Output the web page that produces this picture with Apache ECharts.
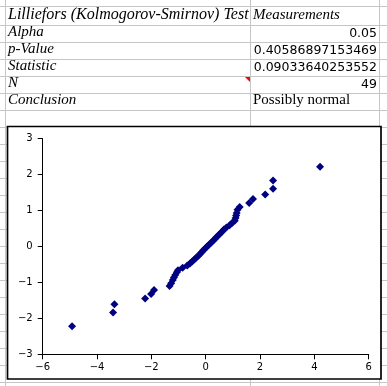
<!DOCTYPE html>
<html>
<head>
<meta charset="utf-8">
<script src="https://cdn.jsdelivr.net/npm/echarts@6/dist/echarts.min.js"></script>
<style>
html,body{margin:0;padding:0;background:#fff;}
#c{width:387px;height:386px;}
</style>
</head>
<body>
<div id="c"></div>
<script>
// Table content
var tableLabels = ['Lilliefors (Kolmogorov-Smirnov) Test', 'Alpha', 'p-Value', 'Statistic', 'N', 'Conclusion'];
var tableValues = ['Measurements', '0.05', '0.40586897153469', '0.09033640253552', '49', 'Possibly normal'];
var valueAlign = ['left', 'right', 'right', 'right', 'right', 'left'];

// Q-Q scatter: x = observed (standardized), y = normal quantile
var xValues = [-4.92, -3.41, -3.36, -2.23, -2.01, -1.90, -1.33, -1.27, -1.21, -1.17, -1.12, -1.06, -1.02,
  -0.85, -0.68, -0.58, -0.50, -0.42, -0.35, -0.27, -0.20, -0.14, -0.08, -0.01, 0.05,
  0.12, 0.19, 0.26, 0.33, 0.39, 0.47, 0.53, 0.61, 0.67, 0.76, 0.88, 0.98, 1.07, 1.10,
  1.12, 1.14, 1.17, 1.25, 1.60, 1.74, 2.19, 2.48, 2.48, 4.21];
var yValues = [-2.22, -1.84, -1.61, -1.45, -1.32, -1.21, -1.10, -1.02, -0.93, -0.86, -0.79, -0.72, -0.66,
  -0.59, -0.53, -0.47, -0.42, -0.36, -0.31, -0.26, -0.20, -0.15, -0.10, -0.05, 0.00,
  0.05, 0.10, 0.15, 0.20, 0.26, 0.31, 0.36, 0.42, 0.47, 0.53, 0.59, 0.66, 0.72, 0.79,
  0.86, 0.93, 1.02, 1.10, 1.21, 1.32, 1.45, 1.61, 1.84, 2.22];

var xTicks = {min: -6, max: 6, interval: 2};
var yTicks = {min: -3, max: 3, interval: 1};

var points = xValues.map(function (x, i) { return [x, yValues[i]]; });

// Spreadsheet grid
var gridColor = '#c6c6c6';
var rowLines = [6.5, 25.5, 42.5, 59.5, 76.5, 93.5, 110.5, 127.5];
for (var yy = 144.5; yy < 386; yy += 17) rowLines.push(yy);
var colLines = [5.5, 250.5, 379.5];
var rowBottoms = [25.5, 42.5, 59.5, 76.5, 93.5, 110.5];

var graphics = [];
rowLines.forEach(function (y) {
  graphics.push({type: 'line', z: 0, shape: {x1: 0, y1: y, x2: 387, y2: y}, style: {stroke: gridColor, lineWidth: 1}});
});
colLines.forEach(function (x) {
  graphics.push({type: 'line', z: 0, shape: {x1: x, y1: 0, x2: x, y2: 386}, style: {stroke: gridColor, lineWidth: 1}});
});
tableLabels.forEach(function (t, i) {
  graphics.push({type: 'text', z: 1, style: {text: t, x: 8, y: rowBottoms[i] - 2.5, textAlign: 'left', textVerticalAlign: 'bottom',
    font: i === 0 ? 'italic 16px "Liberation Serif"' : 'italic 15px "Liberation Serif"', fill: '#000'}});
});
tableValues.forEach(function (t, i) {
  var isNum = valueAlign[i] === 'right';
  graphics.push({type: 'text', z: 1, style: {text: t, x: isNum ? 377 : 253, y: rowBottoms[i] - 2.5,
    textAlign: valueAlign[i], textVerticalAlign: 'bottom',
    font: i === 0 ? 'italic 15px "Liberation Serif"' : (isNum ? '12.5px "DejaVu Sans"' : '15px "Liberation Serif"'), fill: '#000'}});
});
// comment indicator
graphics.push({type: 'polygon', z: 1, shape: {points: [[245, 77], [250, 77], [250, 82]]}, style: {fill: '#ff0000'}});
// chart frame
graphics.push({type: 'rect', z: 2, shape: {x: 7.5, y: 126.5, width: 373.5, height: 252.5}, style: {fill: '#fff', stroke: '#000', lineWidth: 1.7}});

function fmt(v) { return String(v).replace('-', '\u2212'); }

var chart = echarts.init(document.getElementById('c'), null, {renderer: 'canvas'});
chart.setOption({
  animation: false,
  backgroundColor: '#fff',
  graphic: {elements: graphics},
  grid: {left: 42.7, right: 18.3, top: 138.7, bottom: 31.7, containLabel: false},
  xAxis: {
    type: 'value', min: xTicks.min, max: xTicks.max, interval: xTicks.interval, z: 5,
    axisLine: {onZero: false, lineStyle: {color: '#000', width: 1}},
    axisTick: {show: true, length: 5, lineStyle: {color: '#000'}},
    axisLabel: {color: '#000', fontFamily: 'DejaVu Sans', fontSize: 10, margin: 8, formatter: fmt},
    splitLine: {show: false}
  },
  yAxis: {
    type: 'value', min: yTicks.min, max: yTicks.max, interval: yTicks.interval, z: 5,
    axisLine: {show: true, onZero: false, lineStyle: {color: '#000', width: 1}},
    axisTick: {show: true, length: 5, lineStyle: {color: '#000'}},
    axisLabel: {color: '#000', fontFamily: 'DejaVu Sans', fontSize: 10, margin: 10, formatter: fmt},
    splitLine: {show: false}
  },
  series: [{
    type: 'scatter', z: 6, data: points, symbol: 'diamond', symbolSize: 8,
    itemStyle: {color: '#000080', opacity: 1}
  }]
});
</script>
</body>
</html>
